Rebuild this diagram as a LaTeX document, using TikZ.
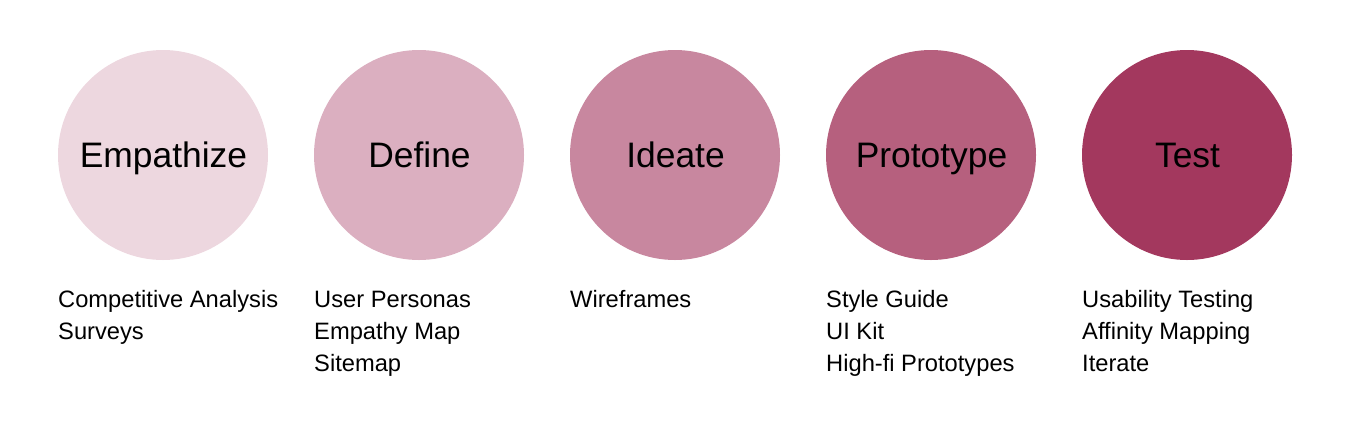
\documentclass[tikz,border=0pt]{standalone}
\usepackage{fontspec}
\setmainfont{Liberation Sans}
\definecolor{c1}{HTML}{EDD7DF}
\definecolor{c2}{HTML}{DBAFC0}
\definecolor{c3}{HTML}{C8879F}
\definecolor{c4}{HTML}{B6607E}
\definecolor{c5}{HTML}{A3385E}
\tikzset{
  phase/.style={circle, draw=none, minimum size=210pt, inner sep=0pt},
  phaselabel/.style={anchor=base, inner sep=0pt, font=\fontsize{35.4}{40}\selectfont},
  item/.style={anchor=base west, inner sep=0pt, font=\fontsize{23.7}{28}\selectfont},
}
\begin{document}
\begin{tikzpicture}[x=1pt,y=-1pt]
\useasboundingbox (0,0) rectangle (1351,437);
\foreach \i/\n/\c/\t in {0/p1/c1/Empathize,1/p2/c2/Define,2/p3/c3/Ideate,3/p4/c4/Prototype,4/p5/c5/Test}{
  \node[phase, fill=\c] (\n) at (163+256*\i,155) {};
  \node[phaselabel] (\n t) at (163.5+256*\i,167) {\t};
}
\node[item] (a1) at (58,307.5) {Competitive Analysis};
\node[item] (a2) at (58,339.5) {Surveys};
\node[item] (b1) at (314,307.5) {User Personas};
\node[item] (b2) at (314,339.5) {Empathy Map};
\node[item] (b3) at (314,371.5) {Sitemap};
\node[item] (c1n) at (570,307.5) {Wireframes};
\node[item] (d1) at (826,307.5) {Style Guide};
\node[item] (d2) at (826,339.5) {UI Kit};
\node[item] (d3) at (826,371.5) {High-fi Prototypes};
\node[item] (e1) at (1082,307.5) {Usability Testing};
\node[item] (e2) at (1082,339.5) {Affinity Mapping};
\node[item] (e3) at (1082,371.5) {Iterate};
\end{tikzpicture}
\end{document}
